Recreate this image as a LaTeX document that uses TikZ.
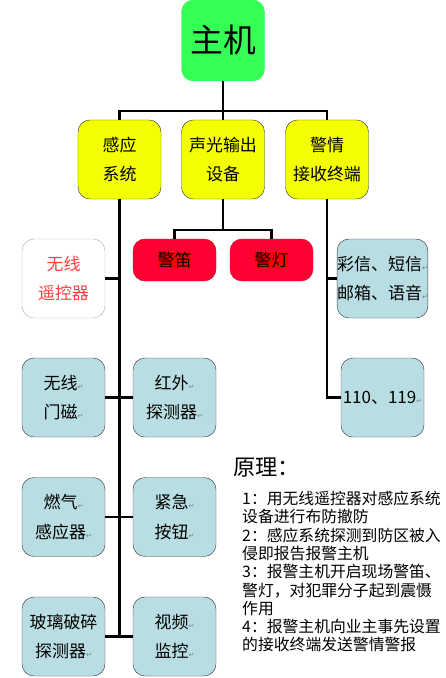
\documentclass[tikz,border=0pt]{standalone}
\usepackage{fontspec}
\setmainfont{Noto Sans CJK SC}
\newfontfamily\markfont{DejaVu Sans}
\usetikzlibrary{positioning, calc}

\definecolor{hostgreen}{HTML}{33FF55}
\definecolor{partyellow}{HTML}{F4FF00}
\definecolor{alarmred}{HTML}{FF0033}
\definecolor{hlred}{HTML}{FF0000}
\definecolor{devblue}{HTML}{B8DEE3}
\definecolor{remotered}{HTML}{FF4040}

\newcommand{\parmark}{{\markfont\color{gray}\fontsize{6}{6}\selectfont ↵}}
\newcommand{\hilite}[1]{{\setlength{\fboxsep}{0pt}\colorbox{hlred}{#1}}}

\tikzset{
  box/.style={draw=black!75, rounded corners=12*0.03cm, minimum width=83*0.03cm,
    minimum height=79*0.03cm, align=center, inner sep=0pt,
    font=\fontsize{14.5}{25.5}\selectfont},
  hostbox/.style={box, draw=hostgreen, fill=hostgreen, minimum height=81*0.03cm,
    font=\fontsize{28}{30}\selectfont},
  partbox/.style={box, fill=partyellow},
  alarmbox/.style={box, fill=alarmred, draw=alarmred!80!black, minimum height=42*0.03cm},
  devbox/.style={box, fill=devblue},
  remotebox/.style={box, draw=black!30, fill=white, text=remotered},
  wire/.style={line width=2pt}
}

\begin{document}
\begin{tikzpicture}[x=0.03cm, y=-0.03cm]
\useasboundingbox (0,0) rectangle (445,678);

% host and its three parts
\node[hostbox] (host) at (223,40.5) {主机};
\node[partbox] (sense) at (119.5,159.5) {感应\\系统};
\node[partbox] (sound) at (223,159.5) {声光输出\\设备};
\node[partbox] (recv) at (327,159.5) {警情\\接收终端};

% sound and light output
\node[alarmbox] (siren) at (174.5,260) {\hilite{警笛}};
\node[alarmbox] (lamp) at (271.5,260) {\hilite{警灯}};

% sensing devices
\node[remotebox] (remote) at (63.5,278.5) {无线\\遥控器};
\node[devbox] (door) at (63.5,397.5) {无线\parmark\\门磁\parmark};
\node[devbox] (ir) at (174.5,397.5) {红外\parmark\\探测器\parmark};
\node[devbox] (gas) at (63.5,517) {燃气\parmark\\感应器\parmark};
\node[devbox] (button) at (174.5,517) {紧急\parmark\\按钮\parmark};
\node[devbox] (glass) at (63.5,636.5) {玻璃破碎\\探测器\parmark};
\node[devbox] (video) at (174.5,636.5) {视频\parmark\\监控\parmark};

% receiving terminals
\node[devbox] (msg) at (382.5,278.5) {彩信、短信\parmark\\邮箱、语音\parmark};
\node[devbox] (tel) at (382.5,397.5) {110、119\parmark};

% connectors
\coordinate (hub) at (223,111);
\coordinate (fork) at (223,230);
\draw[wire] (host.south) -- (sound.north);
\draw[wire] (sense.north) |- (hub) -| (recv.north);
\draw[wire] (sound.south) -- (fork);
\draw[wire] (siren.north) |- (fork) -| (lamp.north);
\draw[wire] (sense.south) -- (sense.south |- glass.east);
\draw[wire] (remote.east) -- (remote.east -| sense.south);
\draw[wire] (door.east) -- (ir.west);
\draw[wire] (gas.east) -- (button.west);
\draw[wire] (glass.east) -- (video.west);
\draw[wire] (recv.south) |- (tel.west);
\draw[wire] (msg.west) -- (msg.west -| recv.south);

% principle text
\node[anchor=west, font=\fontsize{19}{22}\selectfont, inner sep=0pt] (title) at (233,468) {原理：};
\node[anchor=north west, align=left, inner sep=0pt,
  font=\fontsize{13.5}{15.6}\selectfont] (notes) at (242,491) {%
1：用无线遥控器对感应系统\\
设备进行布防撤防\\
2：感应系统探测到防区被入\\
侵即报告报警主机\\
3：报警主机开启现场警笛、\\
警灯，对犯罪分子起到震慑\\
作用\\
4：报警主机向业主事先设置\\
的接收终端发送警情警报};
\end{tikzpicture}
\end{document}
